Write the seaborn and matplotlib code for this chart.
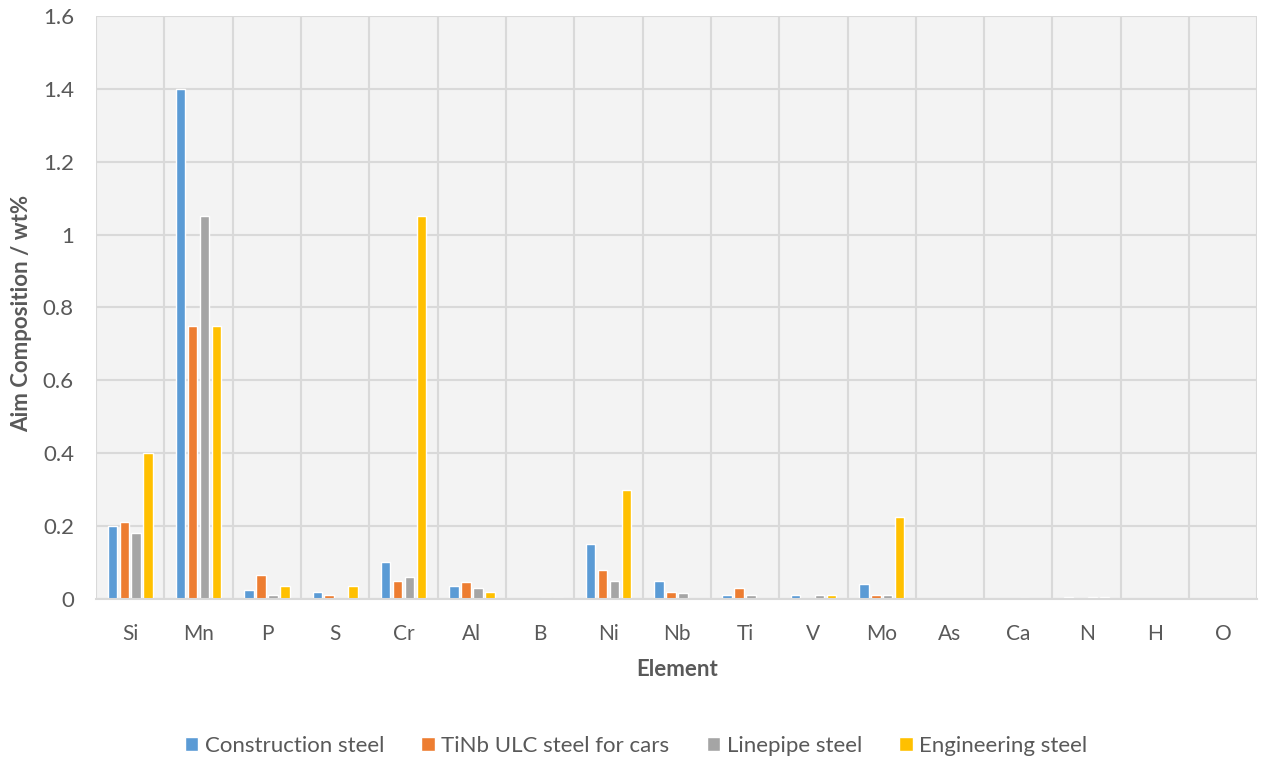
import pandas as pd
import matplotlib.pyplot as plt
import seaborn as sns
from matplotlib.ticker import FixedLocator

# Элементы и целевой состав по маркам стали (wt%)
elements = ['Si', 'Mn', 'P', 'S', 'Cr', 'Al', 'B', 'Ni', 'Nb', 'Ti', 'V', 'Mo',
            'As', 'Ca', 'N', 'H', 'O']
construction = [0.2, 1.4, 0.025, 0.02, 0.1, 0.035, 0, 0.15, 0.05, 0.01, 0.01, 0.04,
                0, 0, 0.004, 0, 0]
tinb_ulc = [0.21, 0.75, 0.065, 0.01, 0.05, 0.045, 0, 0.08, 0.02, 0.03, 0, 0.01,
            0, 0, 0, 0, 0]
linepipe = [0.18, 1.05, 0.01, 0, 0.06, 0.03, 0.003, 0.05, 0.015, 0.01, 0.01, 0.01,
            0, 0.003, 0.004, 0, 0]
engineering = [0.4, 0.75, 0.035, 0.035, 1.05, 0.02, 0.003, 0.3, 0, 0, 0.01, 0.225,
               0, 0, 0.004, 0, 0]

series = {
    'Construction steel': construction,
    'TiNb ULC steel for cars': tinb_ulc,
    'Linepipe steel': linepipe,
    'Engineering steel': engineering,
}
colors = ['#5B9BD5', '#ED7D31', '#A5A5A5', '#FFC000']

rows = []
for name, vals in series.items():
    for el, v in zip(elements, vals):
        rows.append({'Element': el, 'value': v, 'steel': name})
df = pd.DataFrame(rows)

sns.set_theme(style='white')
plt.rcParams['font.family'] = ['Lato', 'DejaVu Sans']

fig = plt.figure(figsize=(12.65, 7.6), dpi=100)
ax = fig.add_axes([0.076, 0.212, 0.918, 0.767])
ax.set_facecolor('#f3f3f3')

sns.barplot(data=df, x='Element', y='value', hue='steel', palette=colors,
            width=0.7, gap=0.2, ax=ax, saturation=1, legend=True)

ax.set_ylim(0, 1.6)
ax.set_xlim(-0.5, len(elements) - 0.5)
ax.set_yticks([i * 0.2 for i in range(9)])
ax.set_yticklabels(['0', '0.2', '0.4', '0.6', '0.8', '1', '1.2', '1.4', '1.6'])
ax.xaxis.set_minor_locator(FixedLocator([i - 0.5 for i in range(len(elements) + 1)]))
ax.grid(axis='y', which='major', color='#d9d9d9', linewidth=1.5)
ax.grid(axis='x', which='minor', color='#d9d9d9', linewidth=1.5)
ax.set_axisbelow(True)
for s in ax.spines.values():
    s.set_visible(False)
ax.spines['bottom'].set_visible(True)
ax.spines['bottom'].set_color('#d9d9d9')
ax.spines['bottom'].set_linewidth(1.5)

ax.tick_params(axis='both', which='both', length=0, colors='#595959')
ax.tick_params(axis='x', labelsize=15, pad=18)
ax.tick_params(axis='y', labelsize=16, pad=16)
ax.set_xlabel('Element', fontsize=16, fontweight='bold', color='#595959', labelpad=11)
ax.set_ylabel('Aim Composition / wt%', fontsize=16, fontweight='bold', color='#595959')
ax.yaxis.set_label_coords(-0.055, 0.49)

ax.legend(loc='center', bbox_to_anchor=(0.465, -0.252), ncol=4, frameon=False,
          fontsize=16, handlelength=0.6, handleheight=0.6, handletextpad=0.3,
          columnspacing=1.68, labelcolor='#595959')

fig.savefig('out.png', dpi=100)
